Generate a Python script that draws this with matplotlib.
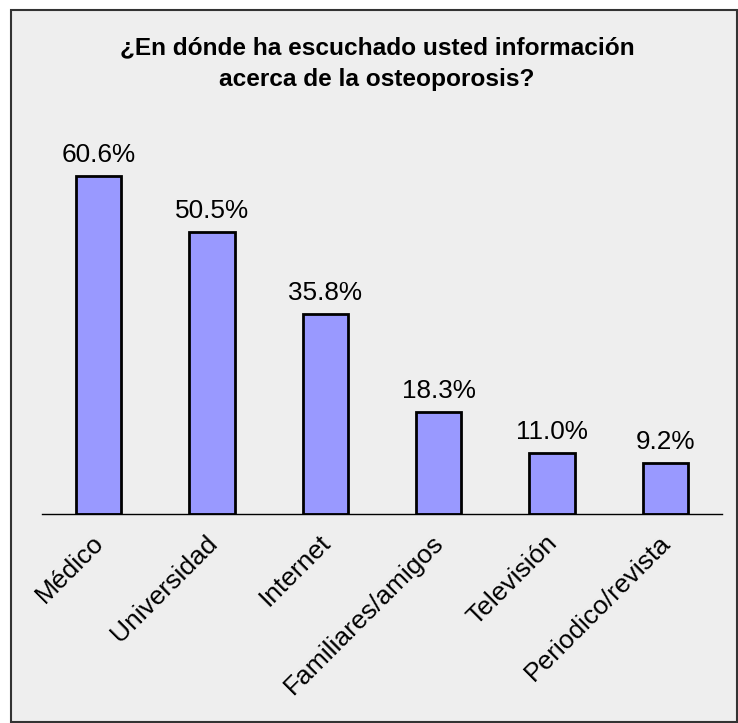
import matplotlib.pyplot as plt
from matplotlib.patches import Rectangle
from matplotlib.transforms import ScaledTranslation

categorias = ['Médico', 'Universidad', 'Internet', 'Familiares/amigos', 'Televisión', 'Periodico/revista']
porcentajes = [60.6, 50.5, 35.8, 18.3, 11.0, 9.2]
etiquetas = ['60.6%', '50.5%', '35.8%', '18.3%', '11.0%', '9.2%']

plt.rcParams['font.family'] = ['Liberation Sans', 'DejaVu Sans']

W, H = 738, 723
fig = plt.figure(figsize=(W / 100, H / 100), dpi=100)
fig.patch.set_facecolor('white')

# panel gris con borde
fondo = Rectangle((11 / W, 1 - 722 / H), (737 - 11) / W, (722 - 10) / H,
                  transform=fig.transFigure, facecolor='#eeeeee',
                  edgecolor='#333333', linewidth=1.5, zorder=-10)
fig.patches.append(fondo)

ax = fig.add_axes([42 / W, 1 - 514 / H, 680 / W, 384 / H])
ax.set_facecolor('none')
x = range(len(categorias))
ax.bar(x, porcentajes, width=0.4, color='#9999ff', edgecolor='black', linewidth=2)
for i, v in enumerate(porcentajes):
    ax.text(i, v + 1.6, etiquetas[i], ha='center', va='bottom', fontsize=18.8)

ax.set_xlim(-0.5, 5.5)
ax.set_ylim(0, 384 / 5.58)
ax.set_yticks([])
ax.set_xticks(list(x))
ax.set_xticklabels(categorias, rotation=45, ha='right', rotation_mode='anchor', fontsize=19)
ax.tick_params(axis='x', length=0, pad=12)
desplaza = ScaledTranslation(-7 / 100, 0, fig.dpi_scale_trans)
for lab in ax.get_xticklabels():
    lab.set_transform(lab.get_transform() + desplaza)
for s in ['top', 'right', 'left']:
    ax.spines[s].set_visible(False)
ax.spines['bottom'].set_linewidth(1)

fig.text(377 / W, 1 - 63.5 / H, '¿En dónde ha escuchado usted información\nacerca de la osteoporosis?',
         ha='center', va='center', fontsize=17.6, fontweight='bold', linespacing=1.5)

fig.savefig('out.png', dpi=100)
